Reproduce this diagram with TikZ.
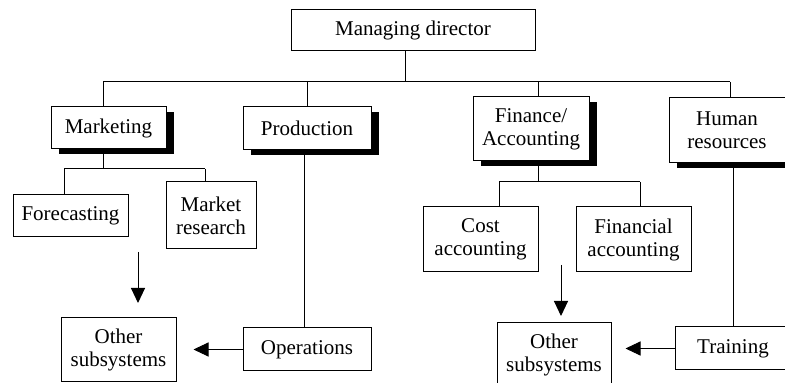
\documentclass[tikz,border=0pt]{standalone}
\usepackage{fontspec}
\setmainfont{Liberation Serif}
\usetikzlibrary{arrows.meta}
\usetikzlibrary{shadows}
\tikzset{
  unit/.style={draw, line width=1pt, fill=white, align=center, inner sep=0pt, font=\fontsize{21}{23}\selectfont},
  head/.style={unit, drop shadow={fill=black, opacity=1, shadow xshift=7.5pt, shadow yshift=-5pt}},
  link/.style={line width=1pt},
  flow/.style={link, -{Triangle[length=15pt,width=14pt]}}
}

\begin{document}
\begin{tikzpicture}[x=1pt,y=1pt]
        \useasboundingbox (0,0) rectangle (785,383);

        \node[unit, minimum width=244, minimum height=41] (MD) at (413,352.5) {Managing director};
        \node[head, minimum width=115, minimum height=42] (MKT) at (108.5,255) {Marketing};
        \node[head, minimum width=128, minimum height=43] (PRD) at (307,254.5) {Production};
        \node[head, minimum width=116, minimum height=64] (FIN) at (531,254) {Finance/\\Accounting};
        \node[head, minimum width=116, minimum height=65] (HR) at (727,252.5) {Human\\resources};
        \node[unit, minimum width=115, minimum height=42] (FC) at (70.5,167) {Forecasting};
        \node[unit, minimum width=90, minimum height=67] (MR) at (211,167.5) {Market\\research};
        \node[unit, minimum width=115, minimum height=65] (CA) at (480.5,143.5) {Cost\\accounting};
        \node[unit, minimum width=115, minimum height=65] (FA) at (633.5,143.5) {Financial\\accounting};
        \node[unit, minimum width=115, minimum height=64] (OS1) at (118.5,33) {Other\\subsystems};
        \node[unit, minimum width=128, minimum height=43] (OP) at (307,33.5) {Operations};
        \node[unit, minimum width=114, minimum height=64] (OS2) at (554,28) {Other\\subsystems};
        \node[unit, minimum width=116, minimum height=43] (TR) at (733,34.5) {Training};

        % junctions of the tree
        \coordinate (bus) at (405,301);
        \coordinate (MKTb) at (103,301);
        \coordinate (PRDb) at (307,301);
        \coordinate (FINb) at (538,301);
        \coordinate (HRb) at (730,301);
        \coordinate (MKTs) at (103,214);
        \coordinate (FCb) at (64,214);
        \coordinate (MRb) at (205,214);
        \coordinate (FINs) at (538,201);
        \coordinate (CAb) at (499,201);
        \coordinate (FAb) at (640,201);
        \coordinate (PRDl) at (304,0);
        \coordinate (HRl) at (733,0);

        \draw[link] (bus |- MD.south) -- (bus);
        \draw[link] (MKTb) -- (HRb);
        \draw[link] (MKTb) -- (MKTb |- MKT.north);
        \draw[link] (PRDb) -- (PRDb |- PRD.north);
        \draw[link] (FINb) -- (FINb |- FIN.north);
        \draw[link] (HRb) -- (HRb |- HR.north);

        \draw[link] (MKTs |- MKT.south) -- (MKTs);
        \draw[link] (FCb) -- (MRb);
        \draw[link] (FCb) -- (FCb |- FC.north);
        \draw[link] (MRb) -- (MRb |- MR.north);

        \draw[link] (FINs |- FIN.south) -- (FINs);
        \draw[link] (CAb) -- (FAb);
        \draw[link] (CAb) -- (CAb |- CA.north);
        \draw[link] (FAb) -- (FAb |- FA.north);

        \draw[link] (PRDl |- PRD.south) -- (PRDl |- OP.north);
        \draw[link] (HRl |- HR.south) -- (TR.north);

        % flows to the other subsystems
        \coordinate (dn1) at (138,131);
        \coordinate (dn2) at (561,118);
        \draw[flow] (dn1) -- (dn1 |- 0,80);
        \draw[flow] (dn2) -- (dn2 |- 0,67);
        \draw[flow, shorten >=17pt] (OP.west) -- (OP.west -| OS1.east);
        \draw[flow, shorten >=14pt] (TR.west) -- (TR.west -| OS2.east);
      \end{tikzpicture}
\end{document}
